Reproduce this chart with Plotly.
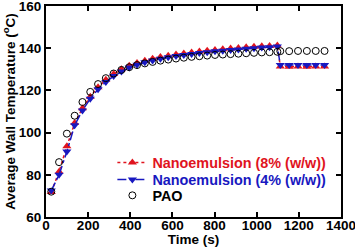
import plotly.graph_objects as go

time_s = [25, 62, 99, 136, 173, 210, 247, 284, 321, 358, 395, 432, 469, 506, 543,
          580, 617, 654, 691, 728, 765, 802, 839, 876, 913, 950, 987, 1024, 1061, 1098,
          1112, 1154, 1196, 1238, 1280, 1322]

nano8 = [71.8, 81.5, 93.5, 104.5, 111.5, 117.0, 121.5, 125.0, 127.8, 130.0, 131.7, 133.0,
         134.1, 135.0, 135.8, 136.4, 137.0, 137.5, 138.0, 138.4, 138.8, 139.2, 139.5, 139.8,
         140.1, 140.4, 140.7, 140.9, 141.1, 141.3,
         131.3, 131.2, 131.3, 131.2, 131.3, 131.3]

nano4 = [72.5, 80.0, 91.0, 103.5, 110.5, 116.0, 120.5, 124.0, 126.8, 129.0, 130.8, 132.2,
         133.3, 134.2, 135.0, 135.7, 136.3, 136.8, 137.3, 137.7, 138.1, 138.5, 138.8, 139.1,
         139.4, 139.7, 140.0, 140.3, 140.5, 140.8,
         132.0, 132.0, 132.0, 132.0, 132.0, 132.0]

pao = [72.0, 86.0, 99.5, 108.0, 114.5, 119.3, 123.0, 125.8, 128.0, 129.7, 131.0, 132.0,
       132.8, 133.5, 134.1, 134.6, 135.1, 135.5, 135.9, 136.2, 136.5, 136.8, 137.0, 137.2,
       137.4, 137.6, 137.8, 138.0, 138.1, 138.3,
       138.6, 138.6, 138.7, 138.7, 138.7, 138.7]

x_ticks = [0, 200, 400, 600, 800, 1000, 1200, 1400]
y_ticks = [60, 80, 100, 120, 140, 160]

RED = "#e0141e"
BLUE = "#1818c0"
FONT = "Arial, 'Liberation Sans', sans-serif"

fig = go.Figure()
fig.add_trace(go.Scatter(
    x=time_s, y=nano8, mode="lines+markers", legend="legend",
    name=f"<span style='color:{RED}'>Nanoemulsion (8% (w/w))</span>",
    line=dict(color=RED, width=1.5, dash="dot"),
    marker=dict(symbol="triangle-up", size=8, color=RED),
))
fig.add_trace(go.Scatter(
    x=time_s, y=nano4, mode="lines+markers", legend="legend2",
    name=f"<span style='color:{BLUE}'>Nanoemulsion (4% (w/w))</span>",
    line=dict(color=BLUE, width=1.5, dash="dashdot"),
    marker=dict(symbol="triangle-down", size=8, color=BLUE),
))
fig.add_trace(go.Scatter(
    x=time_s, y=pao, mode="markers", name="PAO", legend="legend3",
    marker=dict(symbol="circle-open", size=7, color="black", line=dict(width=1)),
))

axis_common = dict(
    showline=True, linewidth=2, linecolor="black", mirror="allticks",
    ticks="inside", ticklen=5, tickwidth=2, tickcolor="black",
    showgrid=False, zeroline=False, automargin=False,
    ticklabeloverflow="allow",
    tickfont=dict(family=FONT, size=13.5, color="black", weight="bold"),
)

def leg(yc):
    return dict(
        x=0.225, y=yc, xanchor="left", yanchor="middle",
        bgcolor="rgba(0,0,0,0)", borderwidth=0,
        font=dict(family=FONT, size=14.4, weight="bold"),
        itemwidth=30,
    )

fig.update_layout(
    width=355, height=247,
    margin=dict(l=46, r=14, t=6, b=30),
    paper_bgcolor="white", plot_bgcolor="white",
    font=dict(family=FONT, color="black", weight="bold"),
    showlegend=True,
    legend=leg(0.258), legend2=leg(0.177), legend3=leg(0.102),
    xaxis=dict(
        range=[0, 1400], tickvals=x_ticks, ticklabelstandoff=-5,
        title=dict(text="Time (s)", standoff=0,
                   font=dict(family=FONT, size=13.5, weight="bold")),
        **axis_common,
    ),
    yaxis=dict(
        range=[60, 160], tickvals=y_ticks,
        title=dict(text="Average Wall Temperature (<sup>o</sup>C)", standoff=2,
                   font=dict(family=FONT, size=13.5, weight="bold")),
        **axis_common,
    ),
)

fig.write_html("out.html", config={"displayModeBar": False},
               post_script="document.body.style.margin='0';")
